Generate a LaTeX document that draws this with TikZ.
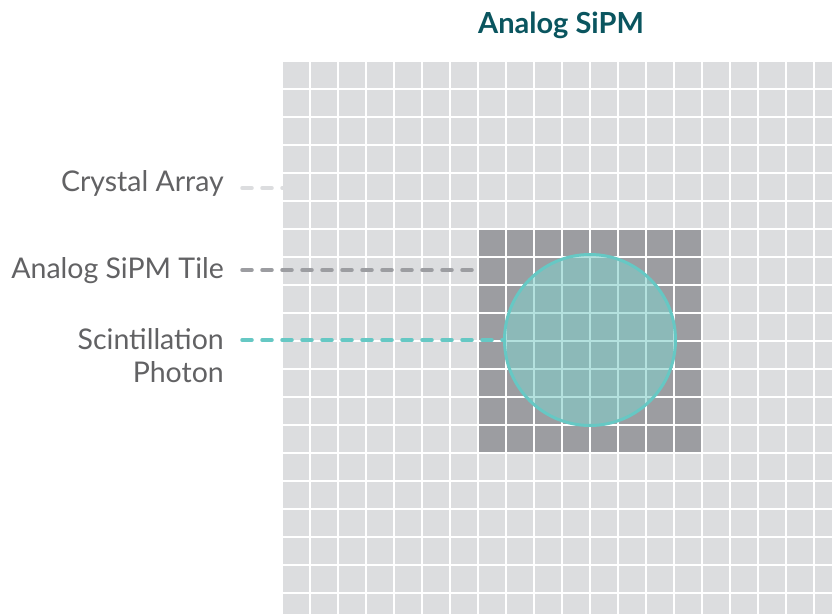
\documentclass[tikz,border=0pt]{standalone}
\usepackage{fontspec}
\setmainfont{Lato}
\usetikzlibrary{calc}
\definecolor{cellgray}{RGB}{220,221,223}
\definecolor{tilegray}{RGB}{156,157,161}
\definecolor{photonteal}{RGB}{102,200,196}
\definecolor{photonfill}{RGB}{130,205,200}
\definecolor{titleteal}{RGB}{10,85,95}
\definecolor{labelgray}{RGB}{98,98,100}

\begin{document}
\begin{tikzpicture}[x=1pt, y=-1pt,
  lead/.style={line width=3.5pt, line cap=round, dash pattern=on 10pt off 10pt},
  lbl/.style={anchor=base east, inner sep=0pt, text=labelgray, font=\fontsize{28.5}{32.5}\selectfont},
  photon/.style={circle, draw=photonteal, line width=3pt, fill=photonfill, fill opacity=0.6,
    minimum size=171pt, inner sep=0pt}]
\clip (0,0) rectangle (832,613);
\fill[white] (0,0) rectangle (832,613);
% crystal array
\foreach \i in {0,...,19}
  \foreach \j in {0,...,19}
    \fill[cellgray] (283+28*\i,62+28*\j) rectangle ++(26,26);
% analog SiPM tile, 8x8
\foreach \i in {7,...,14}
  \foreach \j in {6,...,13}
    \fill[tilegray] (283+28*\i,62+28*\j) rectangle ++(26,26);
\coordinate (arrayedge) at (283,188);
\coordinate (tileedge) at (479,270);

\node[font=\bfseries\fontsize{29}{32}\selectfont, text=titleteal, anchor=base] (title) at (561,33) {Analog SiPM};

\node[lbl] (crystal) at (224,191.5) {Crystal Array};
\node[lbl] (tilelbl) at (224,278.5) {Analog SiPM Tile};
\node[lbl, anchor=north east, align=right] (photonlbl) at (224,328.5) {Scintillation\\Photon};

\draw[lead, cellgray] ([xshift=18]crystal.east |- arrayedge) -- (arrayedge);
\draw[lead, tilegray] ([xshift=18]tilelbl.east |- tileedge) -- (tileedge);
\node[photon] (photon) at (590,340) {};
\draw[lead, photonteal] ([xshift=18]photonlbl.east |- photon.west) -- (photon.west);
\end{tikzpicture}
\end{document}
